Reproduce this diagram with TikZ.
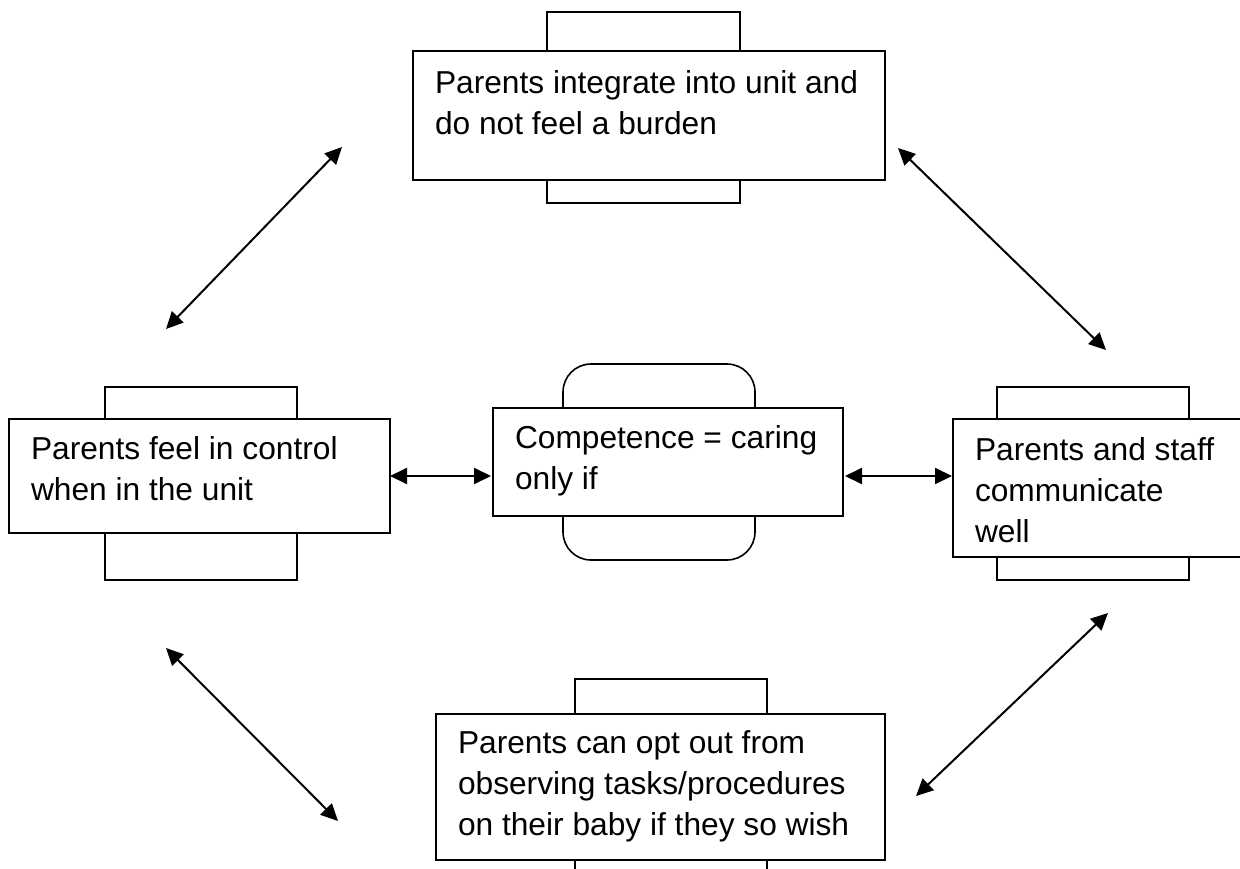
\documentclass[tikz,border=0pt]{standalone}
\usepackage{fontspec}
\setmainfont{Liberation Sans}
\usetikzlibrary{arrows.meta}
\begin{document}
\begin{tikzpicture}[x=1pt,y=-1pt,
  tab/.style={draw, line width=1.6pt, inner sep=0pt, outer sep=0pt},
  rtab/.style={tab, rounded corners=28pt},
  box/.style={draw, fill=white, line width=1.6pt, inner sep=0pt, outer sep=0pt},
  txt/.style={anchor=base west, inner sep=0pt, outer sep=0pt, font=\fontsize{31.7}{41}\selectfont},
  link/.style={{Triangle[length=17pt,width=16pt]}-{Triangle[length=17pt,width=16pt]}, line width=2pt}]
\useasboundingbox (0,0) rectangle (1240,868);
% top
\node[tab, minimum width=193pt, minimum height=191pt] (topTab) at (643.5,107.5) {};
\node[box, minimum width=472pt, minimum height=129pt] (top) at (649,115.5) {};
\node[txt] (topText) at (435,93) {\begin{tabular}[t]{@{}l@{}}Parents integrate into unit and\\do not feel a burden\end{tabular}};
% left
\node[tab, minimum width=192pt, minimum height=193pt] (leftTab) at (201,483.5) {};
\node[box, minimum width=381pt, minimum height=114pt] (left) at (199.5,476) {};
\node[txt] (leftText) at (31,459) {\begin{tabular}[t]{@{}l@{}}Parents feel in control\\when in the unit\end{tabular}};
% centre
\node[rtab, minimum width=192pt, minimum height=196pt] (centreTab) at (659,462) {};
\node[box, minimum width=350pt, minimum height=108pt] (centre) at (668,462) {};
\node[txt] (centreText) at (515,448) {\begin{tabular}[t]{@{}l@{}}Competence = caring\\only if\end{tabular}};
% right
\node[tab, minimum width=192pt, minimum height=193pt] (rightTab) at (1093,483.5) {};
\node[box, minimum width=297pt, minimum height=138pt] (right) at (1101.5,488) {};
\node[txt] (rightText) at (975,460) {\begin{tabular}[t]{@{}l@{}}Parents and staff\\communicate\\well\end{tabular}};
% bottom
\node[tab, minimum width=192pt, minimum height=221pt] (bottomTab) at (671,789.5) {};
\node[box, minimum width=449pt, minimum height=146pt] (bottom) at (660.5,787) {};
\node[txt] (bottomText) at (458,753) {\begin{tabular}[t]{@{}l@{}}Parents can opt out from\\observing tasks/procedures\\on their baby if they so wish\end{tabular}};
% arrow end points
\coordinate (a1) at (166,329);
\coordinate (a2) at (342,147);
\coordinate (b1) at (898,148);
\coordinate (b2) at (1106,350);
\coordinate (c1) at (390,476);
\coordinate (c2) at (491,476);
\coordinate (d1) at (845,476);
\coordinate (d2) at (952,476);
\coordinate (e1) at (166,648);
\coordinate (e2) at (338,821);
\coordinate (f1) at (916,796);
\coordinate (f2) at (1108,613);
\draw[link] (a1) -- (a2);
\draw[link] (b1) -- (b2);
\draw[link] (c1) -- (c2);
\draw[link] (d1) -- (d2);
\draw[link] (e1) -- (e2);
\draw[link] (f1) -- (f2);
\end{tikzpicture}
\end{document}
